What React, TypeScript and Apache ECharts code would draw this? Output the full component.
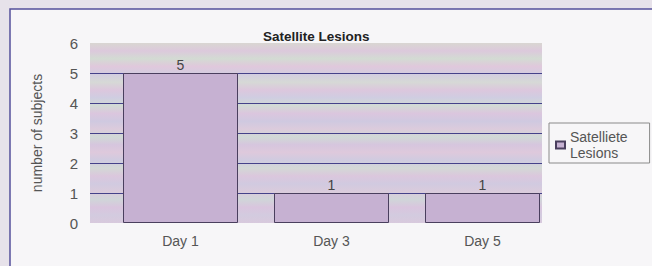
import React, { useEffect, useRef } from "react";
import * as echarts from "echarts";

const categories = ["Day 1", "Day 3", "Day 5"];
const values = [5, 1, 1];
const seriesName = "Satelliete\nLesions";
const titleText = "Satellite Lesions";
const yAxisName = "number of subjects";

const stripeColors = [
  "#d9d6d2", "#dcc9dc", "#d3dbd3", "#e0c8dc", "#d2cde0", "#d6d9d6",
  "#dcc7dd", "#cfcde1", "#d2dad5", "#dbc6de", "#cfc9e0", "#dccbdc",
  "#d0d9d6", "#d6c6de", "#dec9dc", "#cfcbe0", "#d3d8d6", "#dbc7dd",
  "#d1cae0", "#dacbdc", "#d0d5d9", "#d9c5de", "#d3cbdf", "#d8c9dd",
];

export default function App() {
  const ref = useRef<HTMLDivElement>(null);
  useEffect(() => {
    if (!ref.current) return;
    const chart = echarts.init(ref.current, undefined, { renderer: "svg" });
    const stops = stripeColors.map((c, i) => ({ offset: i / (stripeColors.length - 1), color: c }));
    chart.setOption({
      animation: false,
      backgroundColor: "#e7e2ea",
      title: {
        text: titleText,
        left: 263,
        top: 29,
        padding: 0,
        textStyle: { fontFamily: "Liberation Sans", fontSize: 13.5, fontWeight: "bold", color: "#222" },
      },
      legend: {
        left: 549,
        top: 123,
        orient: "vertical",
        padding: [6, 22, 2, 6],
        borderColor: "#8a8a8a",
        borderWidth: 1,
        itemWidth: 9,
        itemHeight: 7,
        icon: "rect",
        textStyle: { fontFamily: "Liberation Sans", fontSize: 14, lineHeight: 16, color: "#555" },
        data: [seriesName],
      },
      graphic: [
        {
          type: "rect",
          z: -10,
          shape: { x: 10, y: 9, width: 660, height: 280 },
          style: { fill: "#f7f6f8", stroke: "#55509a", lineWidth: 1.5 },
        },
        {
          type: "rect",
          z: -5,
          shape: { x: 90, y: 43, width: 452, height: 180 },
          style: {
            fill: new echarts.graphic.LinearGradient(0, 0, 0, 1, stops),
          },
        },
      ],
      grid: [
        { left: 90, right: 110, top: 43, bottom: 43 },
        { left: 105, right: 94, top: 43, bottom: 43 },
      ],
      xAxis: [
        { gridIndex: 0, type: "value", show: false, min: 0, max: 1 },
        {
          gridIndex: 1,
          type: "category",
          data: categories,
          axisLine: { show: false },
          axisTick: { show: false },
          axisLabel: { fontFamily: "Liberation Sans", fontSize: 14, color: "#555", margin: 11 },
        },
      ],
      yAxis: [
        {
          gridIndex: 0,
          type: "value",
          min: 0,
          max: 6,
          interval: 1,
          name: yAxisName,
          nameLocation: "middle",
          nameGap: 46,
          nameTextStyle: { fontFamily: "Liberation Sans", fontSize: 14, color: "#555" },
          axisLine: { show: false },
          axisTick: { show: false },
          axisLabel: { fontFamily: "Liberation Sans", fontSize: 15, color: "#555", margin: 12 },
          splitLine: {
            show: true,
            showMinLine: false,
            showMaxLine: false,
            lineStyle: { color: "#45428a", width: 1 },
          },
        },
        { gridIndex: 1, type: "value", min: 0, max: 6, interval: 1, show: false },
      ],
      series: [
        {
          type: "bar",
          name: seriesName,
          xAxisIndex: 1,
          yAxisIndex: 1,
          data: values,
          barWidth: 115,
          itemStyle: { color: "#c6b1d2", borderColor: "#4a3f5e", borderWidth: 1 },
          label: {
            show: true,
            position: "top",
            distance: 1,
            fontFamily: "Liberation Sans",
            fontSize: 14,
            color: "#444",
          },
        },
      ],
    });
    return () => chart.dispose();
  }, []);
  return (
    <div
      ref={ref}
      style={{ position: "absolute", left: 0, top: 0, width: 652, height: 266 }}
    />
  );
}
